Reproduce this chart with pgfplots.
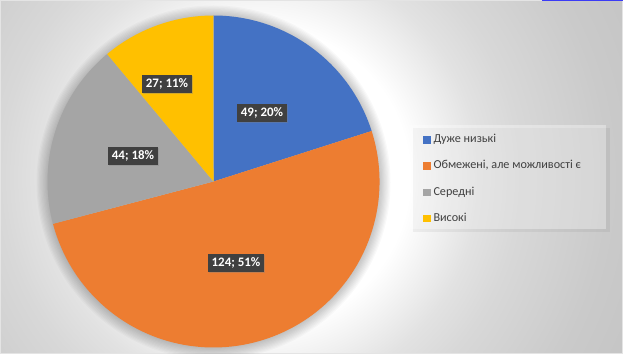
\documentclass[border=0pt]{standalone}
\usepackage{pgfplots}
\pgfplotsset{compat=1.18}
\usepackage{fontspec}
\setmainfont{Carlito}
\usetikzlibrary{shadows}
\definecolor{cblue}{HTML}{4472C4}
\definecolor{corange}{HTML}{ED7D31}
\definecolor{cgray}{HTML}{A5A5A5}
\definecolor{cyellow}{HTML}{FFC000}
\definecolor{labbg}{HTML}{404040}
\definecolor{legtext}{HTML}{404040}
\definecolor{bgA}{HTML}{FFFFFF}
\definecolor{bgB}{HTML}{E2E2E2}
\definecolor{bgC}{HTML}{D8D8D8}
\definecolor{bgD}{HTML}{CACACA}
\definecolor{bgE}{HTML}{C4C4C4}
\definecolor{frame}{HTML}{E4E4E4}
\definecolor{topline}{HTML}{3B3BF5}
\pgfdeclareradialshading{bgshade}{\pgfpoint{0bp}{0bp}}{color(0bp)=(bgA); color(8.9bp)=(bgA); color(13.1bp)=(bgB); color(15.5bp)=(bgC); color(20.8bp)=(bgD); color(25bp)=(bgE); color(50bp)=(bgE)}
\begin{document}
\begin{tikzpicture}
\def\vA{49}\def\vB{124}\def\vC{44}\def\vD{27}
\pgfmathsetmacro{\tot}{\vA+\vB+\vC+\vD}
\pgfmathsetmacro{\aA}{90-\vA/\tot*360}
\pgfmathsetmacro{\aB}{\aA-\vB/\tot*360}
\pgfmathsetmacro{\aC}{\aB-\vC/\tot*360}
\pgfmathsetmacro{\aD}{\aC-\vD/\tot*360}
\begin{axis}[width=623bp, height=354bp, scale only axis,
  xmin=0, xmax=623, ymin=0, ymax=354, hide axis,
  legend style={at={(axis cs:423,221.6)}, anchor=north west, draw=none, fill=none,
    font=\fontsize{12.2}{14}\selectfont, text=legtext, row sep=12.3bp, inner sep=0pt,
    column sep=2.5bp,
    nodes={inner sep=1bp, text depth=3bp, text height=9bp, anchor=west}},
  legend cell align=left]
% background
\begin{scope}
\clip (axis cs:0,0) rectangle (axis cs:623,354);
\shade[shading=bgshade] (axis cs:260,177) circle[radius=420bp];
\end{scope}
\draw[frame, line width=1bp] (axis cs:0.5,0.5) rectangle (axis cs:622.5,353.5);
\fill[topline] (axis cs:542,352.8) rectangle (axis cs:623,354);
% pie shadow
\pgfplotsinvokeforeach{1,...,10}{\fill[black, opacity=0.022] (axis cs:213.5,171.5) circle[radius=165bp+#1*1.2bp];}
% wedges
\fill[cblue] (axis cs:213.5,172.5) -- ++(90:166bp) arc[start angle=90, end angle=\aA, radius=166bp] -- cycle;
\fill[corange] (axis cs:213.5,172.5) -- ++(\aA:166bp) arc[start angle=\aA, end angle=\aB, radius=166bp] -- cycle;
\fill[cgray] (axis cs:213.5,172.5) -- ++(\aB:166bp) arc[start angle=\aB, end angle=\aC, radius=166bp] -- cycle;
\fill[cyellow] (axis cs:213.5,172.5) -- ++(\aC:166bp) arc[start angle=\aC, end angle=\aD, radius=166bp] -- cycle;
% legend box
\fill[black, opacity=0.05] (axis cs:413,226) rectangle (axis cs:610,122);
\fill[white, opacity=0.35] (axis cs:410,229) rectangle (axis cs:606,125);
% data labels
\addplot[forget plot, draw=none, mark=none, nodes near coords={\pgfplotspointmeta; \pct\%},
  point meta=explicit symbolic, visualization depends on={value \thisrow{p} \as \pct},
  nodes near coords style={anchor=center, fill=labbg, text=white,
    font=\fontsize{13}{15}\bfseries\selectfont, inner xsep=3.5bp, inner ysep=2.5bp,
    text height=9.5bp, text depth=3bp,
    drop shadow={shadow xshift=1bp, shadow yshift=-1bp, opacity=0.35}}]
  table[x=x, y=y, meta=v] {
x y v p
262 241 49 20
236 91 124 51
133 198 44 18
167 270 27 11
};
\addlegendimage{legend image code/.code={\fill[cblue] (0bp,-3.2bp) rectangle (6.4bp,3.2bp);}}
\addlegendentry{Дуже низькі}
\addlegendimage{legend image code/.code={\fill[corange] (0bp,-3.2bp) rectangle (6.4bp,3.2bp);}}
\addlegendentry{Обмежені, але можливості є}
\addlegendimage{legend image code/.code={\fill[cgray] (0bp,-3.2bp) rectangle (6.4bp,3.2bp);}}
\addlegendentry{Середні}
\addlegendimage{legend image code/.code={\fill[cyellow] (0bp,-3.2bp) rectangle (6.4bp,3.2bp);}}
\addlegendentry{Високі}
\end{axis}
\pgfresetboundingbox
\path[use as bounding box] (0,0) rectangle (623bp,354bp);
\end{tikzpicture}
\end{document}
